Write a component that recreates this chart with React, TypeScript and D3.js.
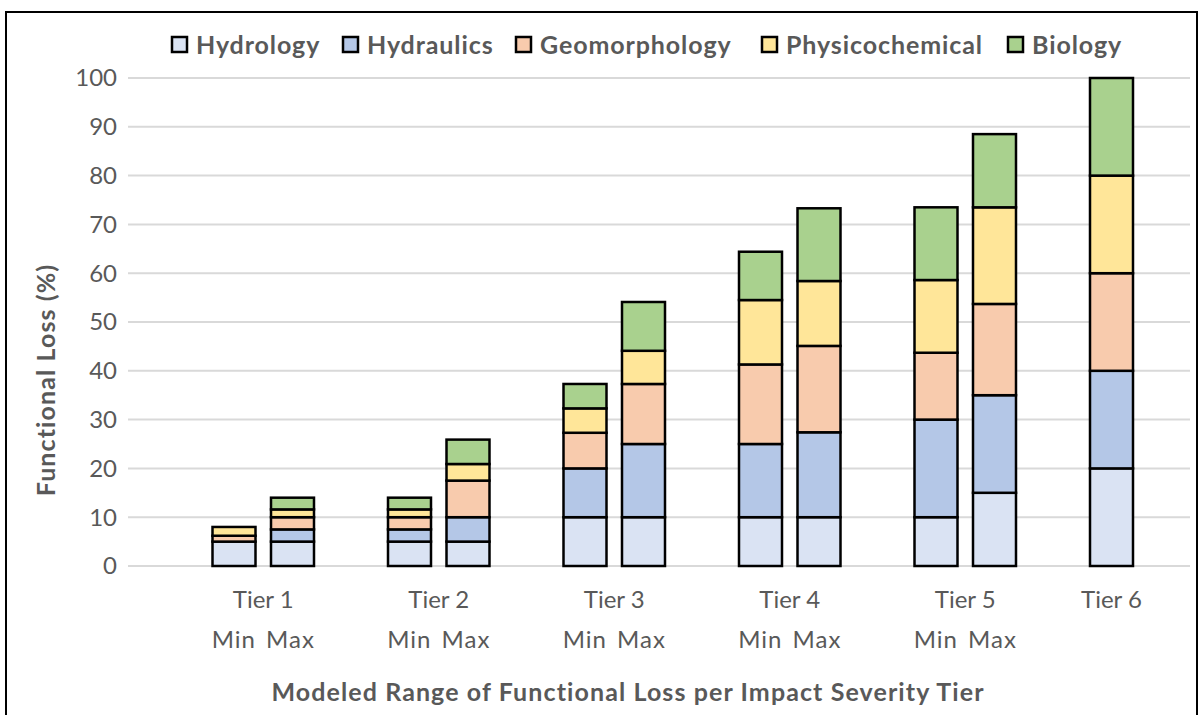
import React from "react";
import * as d3 from "d3";

const slots = ["T1min","T1max","g1","T2min","T2max","g2","T3min","T3max","g3","T4min","T4max","g4","T5min","T5max","g5","T6"];
const barSlots = ["T1min","T1max","T2min","T2max","T3min","T3max","T4min","T4max","T5min","T5max","T6"];
const seriesNames = ["Hydrology","Hydraulics","Geomorphology","Physicochemical","Biology"];
const hydrology = [5, 5, 5, 5, 10, 10, 10, 10, 10, 15, 20];
const hydraulics = [0, 2.5, 2.5, 5, 10, 15, 15, 17.4, 20, 20, 20];
const geomorphology = [1.2, 2.5, 2.5, 7.5, 7.3, 12.3, 16.3, 17.7, 13.7, 18.7, 20];
const physicochemical = [1.8, 1.6, 1.6, 3.4, 5, 6.8, 13.2, 13.3, 14.9, 19.8, 20];
const biology = [0, 2.4, 2.4, 5, 5, 10, 9.9, 14.9, 14.9, 15, 20];
const colors = ["#DAE3F3","#B4C7E7","#F8CBAD","#FFE699","#A9D18E"];
const tierLabels = ["Tier 1","Tier 2","Tier 3","Tier 4","Tier 5","Tier 6"];
const tierSlots = [["T1min","T1max"],["T2min","T2max"],["T3min","T3max"],["T4min","T4max"],["T5min","T5max"],["T6"]];
const subLabels = ["Min Max","Min Max","Min Max","Min Max","Min Max",""];
const yTicks = [0,10,20,30,40,50,60,70,80,90,100];

const FONT = "Lato, 'Open Sans', sans-serif";
const TXT = "#595959";

export default function App() {
  const W = 1202, H = 715;
  const plotL = 128, plotR = 1190, plotT = 78, plotB = 566;
  const y = d3.scaleLinear().domain([0, 100]).range([plotB, plotT]);
  const x = d3.scalePoint<string>().domain(slots).range([234, 1111.5]);
  const bw = x.step() * 0.735;

  const rows = barSlots.map((s, i) => ({
    slot: s,
    Hydrology: hydrology[i],
    Hydraulics: hydraulics[i],
    Geomorphology: geomorphology[i],
    Physicochemical: physicochemical[i],
    Biology: biology[i],
  }));
  const stacked = d3.stack<any>().keys(seriesNames)(rows);

  const legendX = [172, 343, 516, 762, 1008];

  return (
    <svg width={W} height={H} style={{ position: "absolute", left: 0, top: 0, background: "#fff" }} fontFamily={FONT}>
      <rect x={0} y={0} width={W} height={H} fill="#fff" />
      <rect x={6} y={12} width={1191} height={720} fill="none" stroke="#000" strokeWidth={2} />
      {yTicks.map((t) => (
        <g key={t}>
          <line x1={plotL} x2={plotR} y1={y(t)} y2={y(t)} stroke="#D9D9D9" strokeWidth={2} />
          <text x={117} y={y(t)} dy="0.35em" textAnchor="end" fontSize={24} fill={TXT}>{t}</text>
        </g>
      ))}
      {stacked.map((layer, li) => (
        <g key={seriesNames[li]}>
          {layer.map((d, i) =>
            d[1] - d[0] > 0 ? (
              <rect
                key={i}
                x={(x(d.data.slot) as number) - bw / 2}
                y={y(d[1])}
                width={bw}
                height={y(d[0]) - y(d[1])}
                fill={colors[li]}
                stroke="#000"
                strokeWidth={2.5}
              />
            ) : null
          )}
        </g>
      ))}
      {tierLabels.map((t, i) => {
        const xs = tierSlots[i].map((s) => x(s) as number);
        const cx = d3.mean(xs) as number;
        return (
          <g key={t}>
            <text x={cx} y={600} dy="0.35em" textAnchor="middle" fontSize={24} fill={TXT}>{t}</text>
            {subLabels[i] ? (
              <text x={cx} y={640} dy="0.35em" textAnchor="middle" fontSize={24} letterSpacing={1} wordSpacing={3} fill={TXT}>{subLabels[i]}</text>
            ) : null}
          </g>
        );
      })}
      <text x={628} y={692} dy="0.35em" textAnchor="middle" fontSize={25} letterSpacing={1.1} fontWeight="bold" fill={TXT}>
        Modeled Range of Functional Loss per Impact Severity Tier
      </text>
      <text transform={`translate(46,380) rotate(-90)`} dy="0.35em" textAnchor="middle" fontSize={25} letterSpacing={1.1} fontWeight="bold" fill={TXT}>
        Functional Loss (%)
      </text>
      {seriesNames.map((s, i) => (
        <g key={s}>
          <rect x={legendX[i]} y={37} width={15} height={15} fill={colors[i]} stroke="#000" strokeWidth={2.5} />
          <text x={legendX[i] + 24} y={45} dy="0.35em" fontSize={25} letterSpacing={0.9} fontWeight="bold" fill={TXT}>{s}</text>
        </g>
      ))}
    </svg>
  );
}
